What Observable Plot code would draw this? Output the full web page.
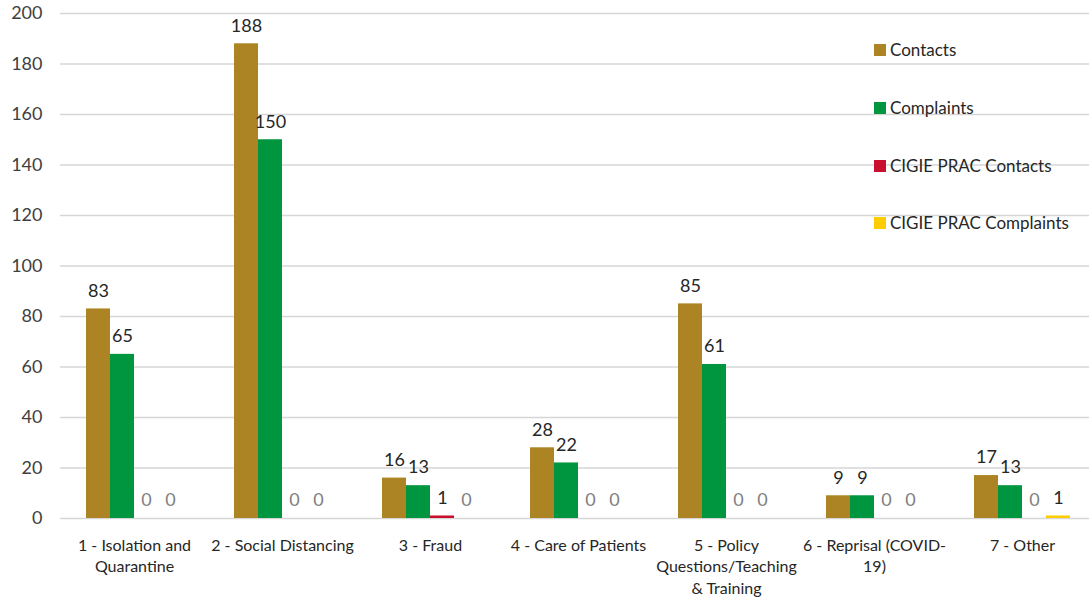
<!DOCTYPE html>
<html>
<head>
<meta charset="utf-8">
<script src="https://cdn.jsdelivr.net/npm/d3@7"></script>
<script src="https://cdn.jsdelivr.net/npm/@observablehq/plot@0.6"></script>
<style>
  html, body { margin: 0; padding: 0; background: #fff; overflow: hidden; }
  #wrap { position: relative; width: 1089px; height: 598px; overflow: hidden; }
  #wrap svg { max-width: none !important; }
  #legend { position: absolute; left: 874px; top: 0; font-family: Lato, sans-serif; font-size: 17px; color: #262626; }
  .item { position: absolute; left: 0; white-space: nowrap; display: flex; align-items: center; }
  .sw { width: 12px; height: 12px; margin-right: 4px; display: inline-block; }
</style>
</head>
<body>
<div id="wrap"><div id="legend"></div></div>
<script>
const categories = ["1 - Isolation and Quarantine", "2 - Social Distancing", "3 - Fraud", "4 - Care of Patients", "5 - Policy Questions/Teaching & Training", "6 - Reprisal (COVID-19)", "7 - Other"];
const categoryLabels = ["1 - Isolation and\nQuarantine", "2 - Social Distancing", "3 - Fraud", "4 - Care of Patients", "5 - Policy\nQuestions/Teaching\n& Training", "6 - Reprisal (COVID-\n19)", "7 - Other"];
const series = ["Contacts", "Complaints", "CIGIE PRAC Contacts", "CIGIE PRAC Complaints"];
const contacts = [83, 188, 16, 28, 85, 9, 17];
const complaints = [65, 150, 13, 22, 61, 9, 13];
const cigieContacts = [0, 0, 1, 0, 0, 0, 0];
const cigieComplaints = [0, 0, 0, 0, 0, 0, 1];
const colors = ["#AD8423", "#00953F", "#C8102E", "#FFCC00"];
const yTicks = [0, 20, 40, 60, 80, 100, 120, 140, 160, 180, 200];

const seriesValues = [contacts, complaints, cigieContacts, cigieComplaints];
const data = [];
categories.forEach((c, i) => {
  series.forEach((s, j) => data.push({category: c, series: s, value: seriesValues[j][i]}));
});
const labelOf = new Map(categories.map((c, i) => [c, categoryLabels[i]]));

const chart = Plot.plot({
  width: 1096,
  height: 598,
  marginLeft: 60,
  marginRight: 0,
  marginTop: 13,
  marginBottom: 80,
  style: {fontFamily: "Lato, sans-serif", fontSize: "18px", color: "#404040", background: "white", overflow: "visible", maxWidth: "none"},
  fx: {domain: categories, padding: 0, label: null, axis: null},
  x: {domain: series, paddingInner: 0, paddingOuter: 1.083, axis: null},
  y: {domain: [0, 200], label: null, axis: null},
  color: {domain: series, range: colors},
  marks: [
    Plot.gridY(yTicks, {stroke: "#d6d6d6", strokeOpacity: 1, strokeWidth: 1.5}),
    Plot.axisY({ticks: yTicks, tickSize: 0, tickPadding: 18, label: null, fill: "#404040"}),
    Plot.barY(data, {fx: "category", x: "series", y: "value", fill: "series"}),
    Plot.text(data, {fx: "category", x: "series", y: "value", text: d => String(d.value), dy: -18,
      fill: d => d.value === 0 ? "#7f7f7f" : "#262626"}),
    Plot.axisFx({anchor: "bottom", tickSize: 0, tickPadding: 17, label: null, lineHeight: 1.34, fill: "#262626",
      fontSize: 16, tickFormat: d => labelOf.get(d)})
  ]
});
document.getElementById("wrap").prepend(chart);

const legend = document.getElementById("legend");
const legendTops = [50, 108, 166, 223];
series.forEach((s, i) => {
  const el = document.createElement("div");
  el.className = "item";
  el.style.top = (legendTops[i] - 11) + "px";
  el.innerHTML = `<span class="sw" style="background:${colors[i]}"></span><span>${s}</span>`;
  legend.appendChild(el);
});
</script>
</body>
</html>
